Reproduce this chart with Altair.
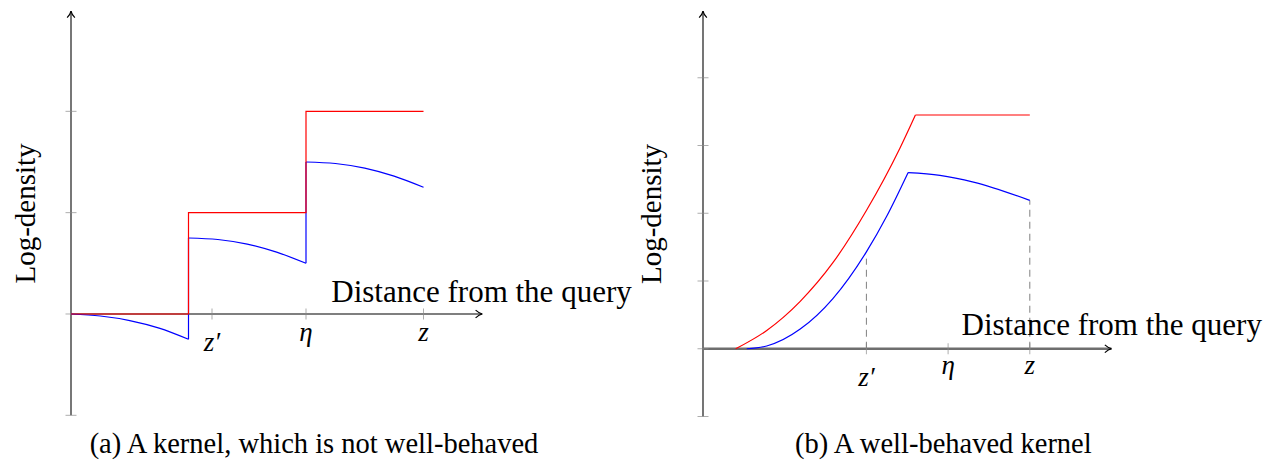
import altair as alt
import pandas as pd

W, H = 1272, 453
FONT = "Liberation Serif"

# ---------------- panel (a): a kernel which is not well-behaved ----------------
a_red_x = [0, 1, 1, 2, 2, 3]
a_red_y = [0, 0, 1, 1, 2, 2]
a_blue_seg = [0, 0, 0, 0, 0, 1, 1, 1, 1, 1, 2, 2, 2, 2, 2]
a_blue_x = [0, 0.25, 0.5, 0.75, 1.0, 1, 1.25, 1.5, 1.75, 2.0, 2, 2.25, 2.5, 2.75, 3.0]
a_blue_y = [0, -0.02, -0.065, -0.14, -0.25, 0.75, 0.735, 0.69, 0.61, 0.5,
            1.5, 1.485, 1.44, 1.36, 1.25]
a_jump_x = [1, 2]
a_jump_lo = [-0.25, 0.5]
a_jump_hi = [0.75, 1.5]
a_xticks = [1.2, 2, 3]
a_xtick_labels = ["z′", "η", "z"]
a_yticks = [-1, 0, 1, 2]
a_axis = dict(xmax=3.5, ymin=-1, ymax=2.99)

# ---------------- panel (b): a well-behaved kernel ----------------
b_red_x = [0.40, 0.78, 1.19, 1.59, 2.00, 2.41, 2.60]
b_red_y = [0, 0.27, 0.70, 1.27, 2.04, 2.96, 3.45]
b_redflat_x = [2.60, 4.0]
b_redflat_y = [3.45, 3.45]
b_blue_x = [0.535, 0.78, 1.19, 1.59, 2.00, 2.25, 2.51]
b_blue_y = [0, 0.04, 0.29, 0.74, 1.43, 1.96, 2.60]
b_blue2_x = [2.51, 2.90, 3.31, 4.0]
b_blue2_y = [2.60, 2.56, 2.46, 2.19]
b_dash_x = [2, 4]
b_dash_top = [1.33, 2.19]
b_xticks = [2, 3, 4]
b_xtick_labels = ["z′", "η", "z"]
b_yticks = [-1, 0, 1, 2, 3, 4]
b_axis = dict(xmax=5.0, ymin=-1, ymax=4.985)

ARROW = "M -0.55 0.95 Q -0.1 0.45 0 0 Q 0.1 0.45 0.55 0.95"


def panel(px0, py0, ux, uy, axis, yticks, xticks, xlabels, curves, extra,
          ycol, xcol, yw, xw, label_dy, prime_dy):
    xs = alt.Scale(domain=[-px0 / ux, (W - px0) / ux], nice=False, zero=False)
    ys = alt.Scale(domain=[(py0 - H) / uy, py0 / uy], nice=False, zero=False)

    def X(f):
        return alt.X(f, type="quantitative", scale=xs, axis=None)

    def Y(f):
        return alt.Y(f, type="quantitative", scale=ys, axis=None)

    layers = []
    # y axis
    layers.append(
        alt.Chart(pd.DataFrame({"x": [0], "y": [axis["ymin"]], "y2": [axis["ymax"]]}))
        .mark_rule(color=ycol, strokeWidth=yw)
        .encode(x=X("x"), y=Y("y"), y2="y2")
    )
    # x axis
    layers.append(
        alt.Chart(pd.DataFrame({"x": [0], "x2": [axis["xmax"]], "y": [0]}))
        .mark_rule(color=xcol, strokeWidth=xw)
        .encode(x=X("x"), x2="x2", y=Y("y"))
    )
    # ticks
    layers.append(
        alt.Chart(pd.DataFrame({"x": [0] * len(yticks), "y": yticks}))
        .mark_tick(orient="horizontal", size=11, thickness=1, color="#8a8a8a")
        .encode(x=X("x"), y=Y("y"))
    )
    layers.append(
        alt.Chart(pd.DataFrame({"x": xticks, "y": [0] * len(xticks)}))
        .mark_tick(orient="vertical", size=11, thickness=1, color="#8a8a8a")
        .encode(x=X("x"), y=Y("y"))
    )
    # arrow heads
    layers.append(
        alt.Chart(pd.DataFrame({"x": [0], "y": [axis["ymax"]]}))
        .mark_point(shape=ARROW, size=196, filled=False, strokeWidth=1.2,
                    color="black", opacity=1, angle=0)
        .encode(x=X("x"), y=Y("y"))
    )
    layers.append(
        alt.Chart(pd.DataFrame({"x": [axis["xmax"]], "y": [0]}))
        .mark_point(shape=ARROW, size=196, filled=False, strokeWidth=1.2,
                    color="black", opacity=1, angle=90)
        .encode(x=X("x"), y=Y("y"))
    )
    layers += extra(X, Y)
    layers += curves(X, Y)
    # tick labels
    for lab, xv in zip(xlabels, xticks):
        layers.append(
            alt.Chart(pd.DataFrame({"x": [xv], "y": [0], "t": [lab]}))
            .mark_text(font=FONT, fontStyle="italic", fontSize=27, align="center",
                       baseline="alphabetic",
                       dy=prime_dy if "′" in lab else label_dy, color="black")
            .encode(x=X("x"), y=Y("y"), text="t:N")
        )
    return layers


def a_curves(X, Y):
    blue = pd.DataFrame({"seg": a_blue_seg, "x": a_blue_x, "y": a_blue_y})
    jumps = pd.DataFrame({"x": a_jump_x, "y": a_jump_lo, "y2": a_jump_hi})
    red = pd.DataFrame({"x": a_red_x, "y": a_red_y, "o": list(range(len(a_red_x)))})
    return [
        alt.Chart(blue).mark_line(color="#0000ff", strokeWidth=1.2, interpolate="monotone")
        .encode(x=X("x"), y=Y("y"), detail="seg:N"),
        alt.Chart(jumps).mark_rule(color="#0000ff", strokeWidth=1.2)
        .encode(x=X("x"), y=Y("y"), y2="y2"),
        alt.Chart(red).mark_line(color="#ff0000", strokeWidth=1.2)
        .encode(x=X("x"), y=Y("y"), order="o:Q"),
    ]


def b_extra(X, Y):
    dash = pd.DataFrame({"x": b_dash_x, "y": [0] * len(b_dash_x), "y2": b_dash_top})
    return [
        alt.Chart(dash).mark_rule(color="#808080", strokeWidth=1, strokeDash=[7, 5])
        .encode(x=X("x"), y=Y("y"), y2="y2")
    ]


def b_curves(X, Y):
    return [
        alt.Chart(pd.DataFrame({"x": b_blue_x, "y": b_blue_y}))
        .mark_line(color="#0000ff", strokeWidth=1.2, interpolate="monotone")
        .encode(x=X("x"), y=Y("y")),
        alt.Chart(pd.DataFrame({"x": b_blue2_x, "y": b_blue2_y}))
        .mark_line(color="#0000ff", strokeWidth=1.2, interpolate="monotone")
        .encode(x=X("x"), y=Y("y")),
        alt.Chart(pd.DataFrame({"x": b_red_x, "y": b_red_y}))
        .mark_line(color="#ff0000", strokeWidth=1.2, interpolate="monotone")
        .encode(x=X("x"), y=Y("y")),
        alt.Chart(pd.DataFrame({"x": b_redflat_x, "y": b_redflat_y}))
        .mark_line(color="#ff0000", strokeWidth=1.2)
        .encode(x=X("x"), y=Y("y")),
    ]


layers = []
layers += panel(63, 305, 117.5, 102, a_axis, a_yticks, a_xticks, a_xtick_labels,
                a_curves, lambda X, Y: [], "#4a4a4a", "#555555", 1.5, 1.5, 27.5, 37.5)
layers += panel(695, 340, 81.7, 68.2, b_axis, b_yticks, b_xticks, b_xtick_labels,
                b_curves, b_extra, "#1a1a1a", "#6e6e6e", 1.2, 2.4, 25.7, 37.3)


def label(text, x, y, size, angle=0, baseline="alphabetic"):
    return (
        alt.Chart(pd.DataFrame({"t": [text]}))
        .mark_text(font=FONT, fontSize=size, angle=angle, align="center",
                   baseline=baseline, color="black")
        .encode(x=alt.value(x), y=alt.value(y), text="t:N")
    )


layers += [
    label("Log-density", 18, 202.5, 29, angle=270, baseline="middle"),
    label("Log-density", 644, 203, 29, angle=270, baseline="middle"),
    label("Distance from the query", 473.5, 290.7, 31),
    label("Distance from the query", 1103.7, 324, 31),
    label("(a) A kernel, which is not well-behaved", 306, 442, 28.5),
    label("(b) A well-behaved kernel", 935.3, 442, 28.5),
]

chart = (
    alt.layer(*layers)
    .resolve_scale(x="independent", y="independent")
    .properties(width=W, height=H, padding=0,
                autosize=alt.AutoSizeParams(type="fit", contains="padding"))
    .configure_view(strokeWidth=0)
)

chart.save("out.html", embed_options={"renderer": "svg", "actions": False})
